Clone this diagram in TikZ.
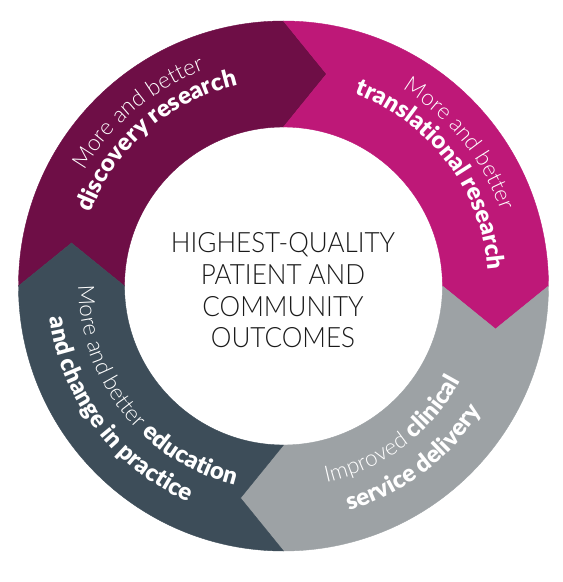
\documentclass[tikz,border=0pt]{standalone}
\usepackage{fontspec}
\newfontfamily\lightf{Lato Light}
\newfontfamily\centerf{Lato Light}[FakeStretch=0.93]
\newfontfamily\blackf{Lato Black}
\usetikzlibrary{calc,decorations.text}
\definecolor{segpurple}{HTML}{6E0E46}
\definecolor{segmagenta}{HTML}{BE1878}
\definecolor{seggrey}{HTML}{9DA2A5}
\definecolor{segslate}{HTML}{3D4D59}
\definecolor{centertext}{HTML}{1A1A1A}
\newcommand{\lfnt}{\lightf\fontsize{22.5}{26}\selectfont}
\newcommand{\bfnt}{\blackf\fontsize{24}{26}\selectfont}
\tikzset{
  seg/.style={fill=#1, draw=#1, line width=0.4pt, line join=miter},
  arctext/.style={decorate, decoration={text along path, text={#1}, text align=center, text color=white}}
}
\begin{document}
\begin{tikzpicture}
\useasboundingbox (-283.5pt,-296pt) rectangle (279.5pt,286pt);
% segments
\fill[seg=segpurple] (180:265pt) arc[start angle=180,end angle=90,radius=265pt]
  -- ($(90:212pt)+(0:43pt)$) -- (90:159pt) arc[start angle=90,end angle=180,radius=159pt]
  -- ($(180:212pt)+(90:43pt)$) -- cycle;
\fill[seg=segmagenta] (90:265pt) arc[start angle=90,end angle=0,radius=265pt]
  -- ($(0:212pt)+(-90:43pt)$) -- (0:159pt) arc[start angle=0,end angle=90,radius=159pt]
  -- ($(90:212pt)+(0:43pt)$) -- cycle;
\fill[seg=seggrey] (0:265pt) arc[start angle=0,end angle=-90,radius=265pt]
  -- ($(-90:212pt)+(-180:43pt)$) -- (-90:159pt) arc[start angle=-90,end angle=0,radius=159pt]
  -- ($(0:212pt)+(-90:43pt)$) -- cycle;
\fill[seg=segslate] (-90:265pt) arc[start angle=-90,end angle=-180,radius=265pt]
  -- ($(-180:212pt)+(-270:43pt)$) -- (-180:159pt) arc[start angle=-180,end angle=-90,radius=159pt]
  -- ($(-90:212pt)+(-180:43pt)$) -- cycle;
% top-left
\path[arctext={|\lfnt|More and better}] (200:230pt) arc[start angle=200,end angle=60,radius=230pt];
\path[arctext={|\bfnt|discovery research}] (201:206pt) arc[start angle=201,end angle=61,radius=206pt];
% top-right
\path[arctext={|\lfnt|More and better}] (109:230pt) arc[start angle=109,end angle=-31,radius=230pt];
\path[arctext={|\bfnt|translational research}] (107:205pt) arc[start angle=107,end angle=-33,radius=205pt];
% bottom-right
\path[arctext={|\lfnt|Improved |\bfnt|clinical}] (-123:201pt) arc[start angle=-123,end angle=17,radius=201pt];
\path[arctext={|\bfnt|service delivery}] (-123:234pt) arc[start angle=-123,end angle=17,radius=234pt];
% bottom-left
\path[arctext={|\lfnt|More and better |\bfnt|education}] (148:205pt) arc[start angle=148,end angle=288,radius=205pt];
\path[arctext={|\bfnt|and change in practice}] (147:236pt) arc[start angle=147,end angle=287,radius=236pt];
% centre
\node[font=\centerf\fontsize{28}{31.7}\selectfont, align=center, text=centertext, inner sep=0pt] (ctext) at (-0.5pt,-4.5pt)
  {HIGHEST-QUALITY\\PATIENT AND\\COMMUNITY\\OUTCOMES};
\end{tikzpicture}
\end{document}
